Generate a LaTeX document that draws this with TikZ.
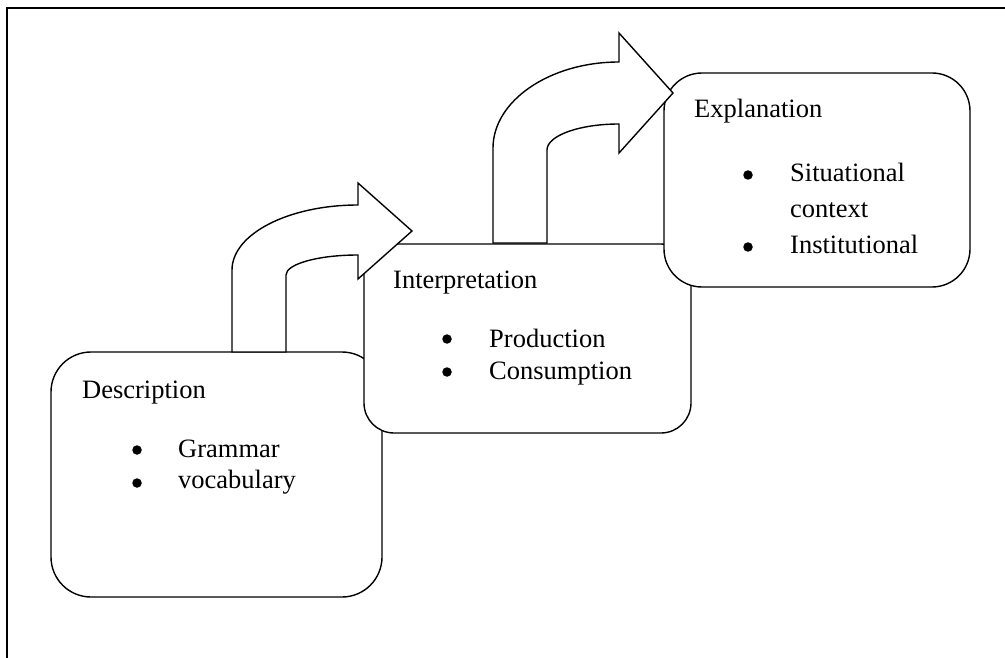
\documentclass[tikz,border=0pt]{standalone}
\usepackage{fontspec}
\setmainfont{Liberation Serif}
\begin{document}
\begin{tikzpicture}[x=1pt,y=-1pt,
  box/.style={draw, line width=1.4pt, fill=white, inner sep=0pt},
  bigarrow/.style={draw, line width=1.4pt, fill=white, line join=miter},
  txt/.style={inner sep=0pt, anchor=base west, font=\fontsize{26.5}{30}\selectfont},
  bul/.style={circle, fill=black, inner sep=0pt, minimum size=9.5pt},
  frame/.style={line width=2pt}]
\useasboundingbox (0,0) rectangle (1005,658);
% frame
\coordinate (f0) at (7,658);
\coordinate (f1) at (7,8);
\coordinate (f2) at (1005,8);
\draw[frame] (f0) -- (f1) -- (f2);
% boxes
\node[box, rounded corners=40pt, minimum width=331pt, minimum height=245pt] (desc) at (216.5,474.5) {};
\node[box, rounded corners=30pt, minimum width=327pt, minimum height=189pt] (interp) at (527.5,338.5) {};
\node[box, rounded corners=38pt, minimum width=306pt, minimum height=214pt] (expl) at (817,180) {};
% arrow 1
\draw[bigarrow] (232,352) -- (232,270) .. controls (232,234.1) and (288.4,205) .. (358,205)
  -- (358,183) -- (412,231) -- (358,279) -- (358,255)
  .. controls (318.2,255) and (286,264) .. (286,275) -- (286,352) -- cycle;
% arrow 2
\draw[bigarrow] (493,243) -- (493,148) .. controls (493,101.1) and (549.4,62) .. (619,62)
  -- (619,33) -- (673,93) -- (619,153) -- (619,124)
  .. controls (579.3,124) and (547,135.6) .. (547,150) -- (547,243) -- cycle;
% texts: Description
\node[txt] (dt) at (82,398) {Description};
\node[bul] (db1) at (137,450) {};
\node[txt] (d1) at (178,457) {Grammar};
\node[bul] (db2) at (137,483) {};
\node[txt] (d2) at (178,488) {vocabulary};
% Interpretation
\node[txt] (it) at (393,288) {Interpretation};
\node[bul] (ib1) at (447,339) {};
\node[txt] (i1) at (489,347) {Production};
\node[bul] (ib2) at (447,372) {};
\node[txt] (i2) at (489,379) {Consumption};
% Explanation
\node[txt] (et) at (694,118) {Explanation};
\node[bul] (eb1) at (748,175) {};
\node[txt] (e1) at (790,182) {Situational};
\node[txt] (e1b) at (790,218) {context};
\node[bul] (eb2) at (748,247) {};
\node[txt] (e2) at (790,254) {Institutional};
\end{tikzpicture}
\end{document}
